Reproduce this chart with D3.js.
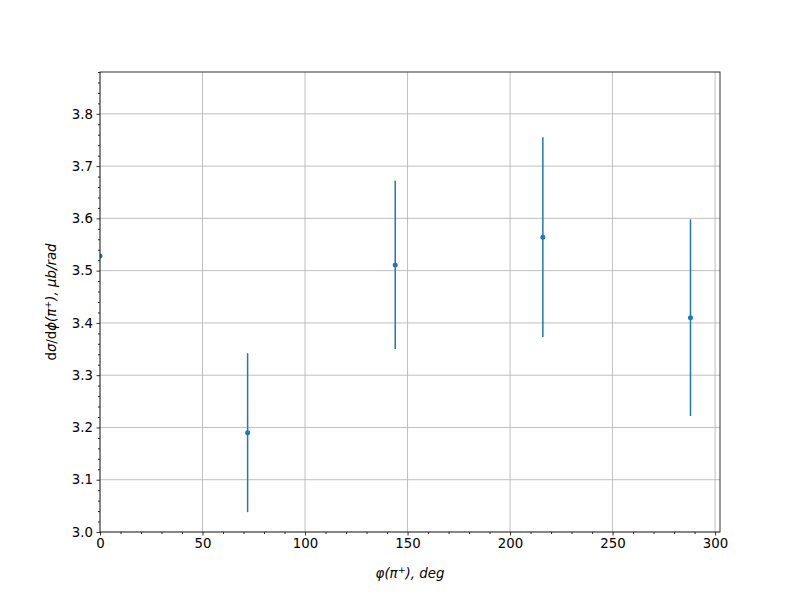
<!DOCTYPE html>
<html><head><meta charset="utf-8">
<script src="https://cdn.jsdelivr.net/npm/d3@7"></script>
<style>body{margin:0;background:#fff}svg{display:block}text{font-family:"DejaVu Sans",sans-serif}</style>
</head><body><svg id="c" width="800" height="600"></svg>
<script>
const phiDeg = [0, 72, 144, 216, 288];
const sigma = [3.528, 3.190, 3.511, 3.564, 3.410];
const sigmaErr = [null, 0.152, 0.161, 0.191, 0.188];
const xTicks = [0, 50, 100, 150, 200, 250, 300];
const yTicks = [3.0, 3.1, 3.2, 3.3, 3.4, 3.5, 3.6, 3.7, 3.8];

const svg = d3.select("#c");
const L = 100, R = 720, T = 72, B = 532;
const x = d3.scaleLinear().domain([0, 302.4]).range([L, R]);
const y = d3.scaleLinear().domain([3.0, 3.88]).range([B, T]);
const col = "#1f77b4";

svg.append("defs").append("clipPath").attr("id", "clip")
  .append("rect").attr("x", L).attr("y", T).attr("width", R - L).attr("height", B - T);

// grid
const g = svg.append("g");
g.selectAll(".gx").data(xTicks).enter().append("line")
  .attr("x1", d => x(d)).attr("x2", d => x(d)).attr("y1", T).attr("y2", B)
  .attr("stroke", "#b0b0b0").attr("stroke-width", 0.8);
g.selectAll(".gy").data(yTicks).enter().append("line")
  .attr("y1", d => y(d)).attr("y2", d => y(d)).attr("x1", L).attr("x2", R)
  .attr("stroke", "#b0b0b0").attr("stroke-width", 0.8);

// data
const pts = phiDeg.map((p, i) => ({p, s: sigma[i], e: sigmaErr[i]}));
const dg = svg.append("g").attr("clip-path", "url(#clip)");
dg.selectAll(".eb").data(pts.filter(d => d.e != null)).enter().append("line")
  .attr("x1", d => x(d.p)).attr("x2", d => x(d.p))
  .attr("y1", d => y(d.s - d.e)).attr("y2", d => y(d.s + d.e))
  .attr("stroke", col).attr("stroke-width", 1.5);
dg.selectAll(".pt").data(pts).enter().append("circle")
  .attr("cx", d => x(d.p)).attr("cy", d => y(d.s)).attr("r", 2.5).attr("fill", col);

// axes
const xMinor = d3.range(0, 303, 10);
const yMinor = d3.range(0, 45).map(i => +(3.0 + i * 0.02).toFixed(2)).filter(v => v <= 3.881);
const ax = svg.append("g").attr("transform", `translate(0,${B})`)
  .call(d3.axisBottom(x).tickValues(xTicks).tickFormat(d3.format("d")).tickSize(3.5).tickPadding(3.5));
const axm = svg.append("g").attr("transform", `translate(0,${B})`)
  .call(d3.axisBottom(x).tickValues(xMinor.filter(v => v % 50 !== 0)).tickFormat("").tickSize(2));
const ay = svg.append("g").attr("transform", `translate(${L},0)`)
  .call(d3.axisLeft(y).tickValues(yTicks).tickFormat(d3.format(".1f")).tickSize(3.5).tickPadding(3.5));
const aym = svg.append("g").attr("transform", `translate(${L},0)`)
  .call(d3.axisLeft(y).tickValues(yMinor.filter(v => Math.round(v * 100) % 10 !== 0)).tickFormat("").tickSize(2));
[ax, axm, ay, aym].forEach(a => {
  a.select(".domain").remove();
  a.selectAll(".tick line").attr("stroke", "#000").attr("stroke-width", 0.8);
  a.selectAll("text").attr("fill", "#000").style("font-size", "13.33px").style("font-family", "DejaVu Sans, sans-serif");
});

// spines
svg.append("rect").attr("x", L).attr("y", T).attr("width", R - L).attr("height", B - T)
  .attr("fill", "none").attr("stroke", "#000").attr("stroke-width", 0.8);

// labels
const xl = svg.append("text").attr("x", (L + R) / 2).attr("y", 578).attr("text-anchor", "middle")
  .style("font-size", "13.33px");
xl.append("tspan").style("font-style", "italic").text("φ(π");
xl.append("tspan").attr("dy", -5).style("font-size", "9.5px").text("+");
xl.append("tspan").attr("dy", 5).style("font-style", "italic").text("), deg");

const yl = svg.append("text").attr("transform", `translate(56,${(T + B) / 2}) rotate(-90)`)
  .attr("text-anchor", "middle").style("font-size", "13.33px");
yl.append("tspan").text("d");
yl.append("tspan").style("font-style", "italic").text("σ");
yl.append("tspan").text("/d");
yl.append("tspan").style("font-style", "italic").text("ϕ(π");
yl.append("tspan").attr("dy", -5).style("font-size", "9.5px").text("+");
yl.append("tspan").attr("dy", 5).style("font-style", "italic").text("), μb/rad");
</script></body></html>
